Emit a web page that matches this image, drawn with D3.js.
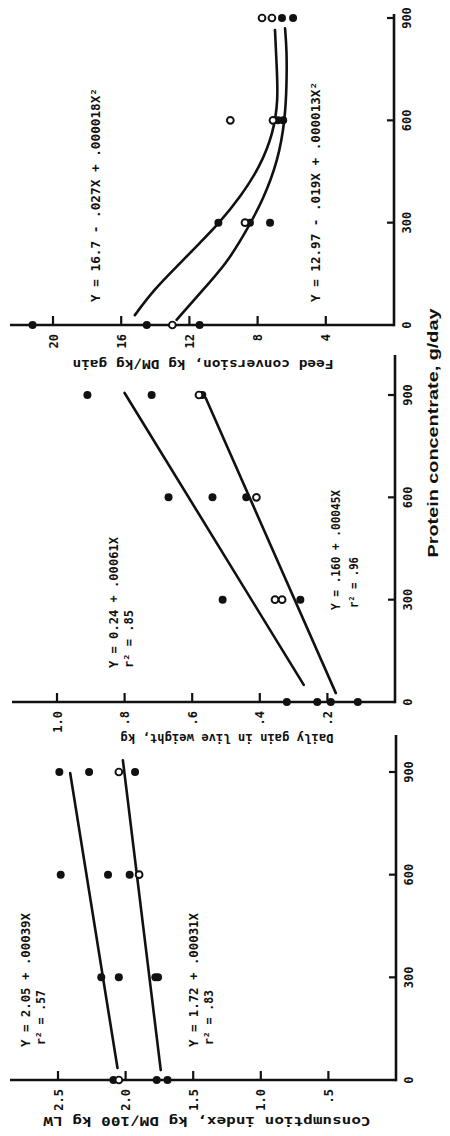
<!DOCTYPE html>
<html><head><meta charset="utf-8">
<script src="https://cdn.jsdelivr.net/npm/d3@7"></script>
<style>body{margin:0;background:#fff}svg{display:block}</style>
</head><body>
<svg id="c" width="450" height="1136"></svg>
<script>
// ---------- data ----------
const proteinTicks = [0, 300, 600, 900];
const proteinTickLabels = ["0", "300", "600", "900"];

const consTicks = [0.5, 1.0, 1.5, 2.0, 2.5];
const consTickLabels = [".5", "1.0", "1.5", "2.0", "2.5"];
const gainTicks = [0.2, 0.4, 0.6, 0.8, 1.0];
const gainTickLabels = [".2", ".4", ".6", ".8", "1.0"];
const feedTicks = [4, 8, 12, 16, 20];
const feedTickLabels = ["4", "8", "12", "16", "20"];

// Consumption index, kg DM/100 kg LW
const consFilled = [[0,2.09],[0,1.77],[0,1.69],[300,2.18],[300,2.05],[300,1.78],[300,1.76],
                    [600,2.48],[600,2.13],[600,1.97],[900,2.49],[900,2.27],[900,1.93]];
const consOpen   = [[0,2.05],[600,1.90],[900,2.05]];
const consLineA  = [[35,2.06],[897,2.41]];
const consLineB  = [[29,1.74],[934,2.02]];

// Daily gain in live weight, kg
const gainFilled = [[0,0.32],[0,0.23],[0,0.19],[0,0.11],[300,0.51],[300,0.28],
                    [600,0.67],[600,0.54],[600,0.44],[900,0.91],[900,0.72],[900,0.57]];
const gainOpen   = [[300,0.355],[300,0.334],[600,0.41],[900,0.58]];
const gainLineA  = [[50,0.27],[906,0.80]];
const gainLineB  = [[26,0.175],[891,0.56]];

// Feed conversion, kg DM/kg gain
const feedFilled = [[0,21.2],[0,14.5],[0,11.4],[300,10.3],[300,8.45],[300,7.27],
                    [600,6.8],[600,6.5],[900,6.57],[900,5.92]];
const feedOpen   = [[0,13.0],[300,8.74],[600,9.6],[600,7.1],[900,7.74],[900,7.16]];
const feedCurveA = [[29,15.2],[103,14.1],[181,12.55],[240,11.4],[296,10.3],[376,9.0],
                    [464,7.86],[562,7.08],[660,6.79],[758,6.88],[865,6.98]];
const feedCurveB = [[15,12.75],[93,11.38],[181,9.81],[269,8.74],[367,7.67],[484,6.79],
                    [601,6.39],[709,6.29],[806,6.29],[870,6.39]];

// ---------- drawing ----------
const svg = d3.select("#c");
svg.append("rect").attr("width",450).attr("height",1136).attr("fill","#fff");
// the chart is drawn upright in a 1136x450 frame, then turned a quarter turn
const g = svg.append("g").attr("transform","translate(0,1136) rotate(-90)");

const MONO = "'DejaVu Sans Mono', 'Liberation Mono', monospace";
const INK = "#111";

function panel(cfg){
  const x = d3.scaleLinear().domain([0,900]).range(cfg.xr);
  const y = d3.scaleLinear().domain(cfg.yd).range(cfg.yr);
  const p = g.append("g");
  const x0 = x(0), yb = cfg.axisY;
  p.append("line").attr("x1",x0).attr("x2",x0).attr("y1",cfg.yTop).attr("y2",yb)
    .attr("stroke",INK).attr("stroke-width",2.6);
  p.append("line").attr("x1",x0-1.3).attr("x2",cfg.xEnd).attr("y1",yb).attr("y2",yb)
    .attr("stroke",INK).attr("stroke-width",2.6);
  cfg.ticks.forEach((t,i)=>{
    p.append("line").attr("x1",x0).attr("x2",x0+9).attr("y1",y(t)).attr("y2",y(t))
      .attr("stroke",INK).attr("stroke-width",2.2);
    p.append("text").attr("x",x0-9).attr("y",y(t)+4.5).attr("text-anchor","end")
      .attr("font-family",MONO).attr("font-weight","bold").attr("font-size",12)
      .attr("fill",INK).text(cfg.tickLabels[i]);
  });
  proteinTicks.forEach((t,i)=>{
    if(t>0) p.append("line").attr("x1",x(t)).attr("x2",x(t)).attr("y1",yb).attr("y2",yb-7)
      .attr("stroke",INK).attr("stroke-width",2.2);
    p.append("text").attr("x",x(t)).attr("y",yb+17).attr("text-anchor","middle")
      .attr("font-family",MONO).attr("font-weight","bold").attr("font-size",12)
      .attr("fill",INK).text(proteinTickLabels[i]);
  });
  p.append("text").attr("transform",`translate(${cfg.title[1]},${cfg.title[2]}) rotate(-90)`)
    .attr("text-anchor","middle").attr("font-family",MONO).attr("font-weight","bold")
    .attr("font-size",12).attr("fill",INK)
    .attr("textLength",cfg.title[3]).attr("lengthAdjust","spacingAndGlyphs")
    .text(cfg.title[0]);
  const line = d3.line().x(d=>x(d[0])).y(d=>y(d[1])).curve(d3.curveBasis);
  cfg.lines.forEach(L=>{
    p.append("path").attr("d",line(L)).attr("fill","none").attr("stroke",INK)
      .attr("stroke-width",2.6).attr("stroke-linecap","round");
  });
  p.selectAll(null).data(cfg.filled).enter().append("circle")
    .attr("cx",d=>x(d[0])).attr("cy",d=>y(d[1])).attr("r",4).attr("fill",INK);
  p.selectAll(null).data(cfg.open).enter().append("circle")
    .attr("cx",d=>x(d[0])).attr("cy",d=>y(d[1])).attr("r",3.4)
    .attr("fill","#fff").attr("stroke",INK).attr("stroke-width",1.9);
  cfg.notes.forEach(n=>{
    p.append("text").attr("x",n[1]).attr("y",n[2]).attr("font-family",MONO)
      .attr("font-weight","bold").attr("font-size",13).attr("fill",INK)
      .attr("textLength",n[3]).attr("lengthAdjust","spacingAndGlyphs").text(n[0]);
  });
}

panel({
  xr:[56,364], yd:[0,2.5], yr:[396,58], axisY:396, yTop:10, xEnd:401,
  ticks:consTicks, tickLabels:consTickLabels,
  title:["Consumption index, kg DM/100 kg LW",19,207,327],
  lines:[consLineA,consLineB], filled:consFilled, open:consOpen,
  notes:[["Y = 2.05 + .00039X",89,30,134],["r\u00B2 = .57",91,45,55],
         ["Y = 1.72 + .00031X",89,198,134],["r\u00B2 = .83",91,213,55]]
});
panel({
  xr:[434,741], yd:[0,1.0], yr:[395,57], axisY:395, yTop:12, xEnd:781,
  ticks:gainTicks, tickLabels:gainTickLabels,
  title:["Daily gain in live weight, kg",402,227,213],
  lines:[gainLineA,gainLineB], filled:gainFilled, open:gainOpen,
  notes:[["Y = 0.24 + .00061X",468,118,131],["r\u00B2 = .85",468,133,58],
         ["Y = .160 + .00045X",526,340,120],["r\u00B2 = .96",528,358,51]]
});
panel({
  xr:[811,1118], yd:[0,20], yr:[394,53], axisY:394, yTop:10, xEnd:1122,
  ticks:feedTicks, tickLabels:feedTickLabels,
  title:["Feed conversion, kg DM/kg gain",776,203,261],
  lines:[feedCurveA,feedCurveB], filled:feedFilled, open:feedOpen,
  notes:[["Y = 16.7 - .027X + .000018X\u00B2",834,100,214],
         ["Y = 12.97 - .019X + .000013X\u00B2",834,320,220]]
});
g.append("text").attr("x",703).attr("y",438).attr("text-anchor","middle")
  .attr("font-family","'Liberation Sans', Arial, sans-serif").attr("font-weight","bold")
  .attr("font-size",15).attr("fill",INK).attr("textLength",249)
  .attr("lengthAdjust","spacingAndGlyphs").text("Protein concentrate, g/day");
</script>
</body></html>
